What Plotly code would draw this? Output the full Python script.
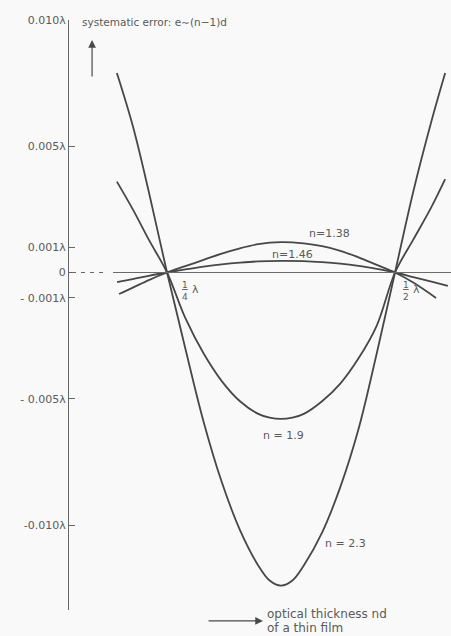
import plotly.graph_objects as go

# optical thickness nd in units of lambda, systematic error in units of lambda
n138_x = [0.1974, 0.2125, 0.23, 0.25, 0.27, 0.29, 0.31, 0.33, 0.35, 0.375, 0.40, 0.42, 0.44, 0.46, 0.48, 0.50, 0.52, 0.545]
n138_y = [-0.00085, -0.00060, -0.00030, 0.0, 0.00025, 0.00050, 0.00075, 0.00096, 0.00112, 0.00120, 0.00115, 0.00104,
          0.00086, 0.00060, 0.00030, 0.0, -0.00040, -0.00101]

n146_x = [0.1952, 0.2125, 0.23, 0.25, 0.27, 0.29, 0.31, 0.33, 0.35, 0.375, 0.40, 0.42, 0.44, 0.46, 0.48, 0.50, 0.52, 0.54, 0.558]
n146_y = [-0.00038, -0.00026, -0.00013, 0.0, 0.00012, 0.00023, 0.00032, 0.00039, 0.00044, 0.00046, 0.00045, 0.00041,
          0.00035, 0.00026, 0.00014, 0.0, -0.00018, -0.00036, -0.00053]

n19_x = [0.195, 0.2125, 0.23, 0.25, 0.27, 0.29, 0.31, 0.33, 0.35, 0.3625, 0.375, 0.3875, 0.40, 0.42, 0.44, 0.46, 0.48,
         0.50, 0.52, 0.54, 0.555]
n19_y = [0.0036, 0.0025, 0.0013, 0.0, -0.0018, -0.0032, -0.0043, -0.0051, -0.0056, -0.00575, -0.0058, -0.00575,
         -0.0056, -0.0051, -0.0044, -0.0034, -0.0021, 0.0, 0.0013, 0.0026, 0.0037]

n23_x = [0.195, 0.2125, 0.23, 0.25, 0.27, 0.29, 0.31, 0.33, 0.35, 0.3625, 0.375, 0.3875, 0.40, 0.42, 0.44, 0.46, 0.48,
         0.50, 0.52, 0.54, 0.555]
n23_y = [0.0079, 0.0058, 0.0032, 0.0, -0.0030, -0.0059, -0.0083, -0.0102, -0.0116, -0.0122, -0.0124, -0.0122,
         -0.0116, -0.0103, -0.0085, -0.0062, -0.0032, 0.0, 0.0032, 0.0060, 0.0079]

tick_vals = [0.010, 0.005, 0.001, 0.0, -0.001, -0.005, -0.010]
tick_text = ["0.010λ", "0.005λ", "0.001λ", "0", "- 0.001λ", "- 0.005λ", "-0.010λ"]

X_RANGE = [0.1425, 0.5614]
Y_RANGE = [-0.013366, 0.010]

CURVE = "#474747"
TXT = "#5a5a5a"
FONT = "DejaVu Sans"

fig = go.Figure()

# zero reference line (solid) and dashed lead-in from the axis
fig.add_shape(type="line", xref="x", yref="y", x0=0.1908, x1=X_RANGE[1], y0=0, y1=0,
              line=dict(color="#6a6a6a", width=1.2))
fig.add_shape(type="line", xref="x", yref="y", x0=0.1458, x1=0.1809, y0=0, y1=0,
              line=dict(color="#6a6a6a", width=1.1, dash="4px,5px"))

for xs, ys in [(n23_x, n23_y), (n19_x, n19_y), (n138_x, n138_y), (n146_x, n146_y)]:
    fig.add_trace(go.Scatter(x=xs, y=ys, mode="lines",
                             line=dict(color=CURVE, width=1.8, shape="spline", smoothing=1.0),
                             hoverinfo="skip", showlegend=False))

def label(text, x, y, size=11, xanchor="center", yanchor="middle", yref="y"):
    fig.add_annotation(x=x, y=y, xref="x", yref=yref, text=text, showarrow=False,
                       font=dict(family=FONT, size=size, color=TXT),
                       xanchor=xanchor, yanchor=yanchor)

label("n=1.38", 0.4287, 0.00156)
label("n=1.46", 0.3871, 0.00073)
label("n = 1.9", 0.3772, -0.00644)
label("n = 2.3", 0.4452, -0.01075)

# fractions 1/4 lambda and 1/2 lambda
label("<u>1</u><br>4", 0.2700, -0.00072, size=9)
label("λ", 0.2815, -0.00066, size=11)
label("<u>1</u><br>2", 0.5125, -0.00072, size=9)
label("λ", 0.5240, -0.00066, size=11)

# axis titles
label("systematic error: e∼(n−1)d", 0.1546, 0.00992, size=10.5, xanchor="left")
label("optical thickness nd", 0.3575, -0.0068, size=12, xanchor="left", yref="paper")
label("of a thin film", 0.3575, -0.0305, size=12, xanchor="left", yref="paper")

# arrows
fig.add_annotation(x=0.1678, y=0.00921, xref="x", yref="y", ax=0, ay=38, axref="pixel", ayref="pixel",
                   text="", showarrow=True, arrowhead=2, arrowsize=1.3, arrowwidth=1.2, arrowcolor="#4a4a4a")
fig.add_annotation(x=0.3553, y=-0.0186, xref="x", yref="paper", ax=-56, ay=0, axref="pixel", ayref="pixel",
                   text="", showarrow=True, arrowhead=2, arrowsize=1.3, arrowwidth=1.2, arrowcolor="#4a4a4a")

fig.update_xaxes(range=X_RANGE, visible=False, fixedrange=True)
fig.update_yaxes(range=Y_RANGE, tickvals=tick_vals, ticktext=tick_text,
                 ticks="inside", ticklen=6, tickwidth=1.1, tickcolor="#666666",
                 showline=True, linecolor="#666666", linewidth=1.2,
                 showgrid=False, zeroline=False,
                 tickfont=dict(family=FONT, size=11, color=TXT), fixedrange=True)

fig.update_layout(width=451, height=636,
                  margin=dict(l=69, r=0, t=20, b=26),
                  paper_bgcolor="#f9f9f9", plot_bgcolor="#f9f9f9",
                  showlegend=False)

fig.write_html("out.html", config={"displayModeBar": False},
               post_script="document.body.style.margin='0';document.body.style.overflow='hidden';"
                           "document.body.style.background='#f9f9f9';")
